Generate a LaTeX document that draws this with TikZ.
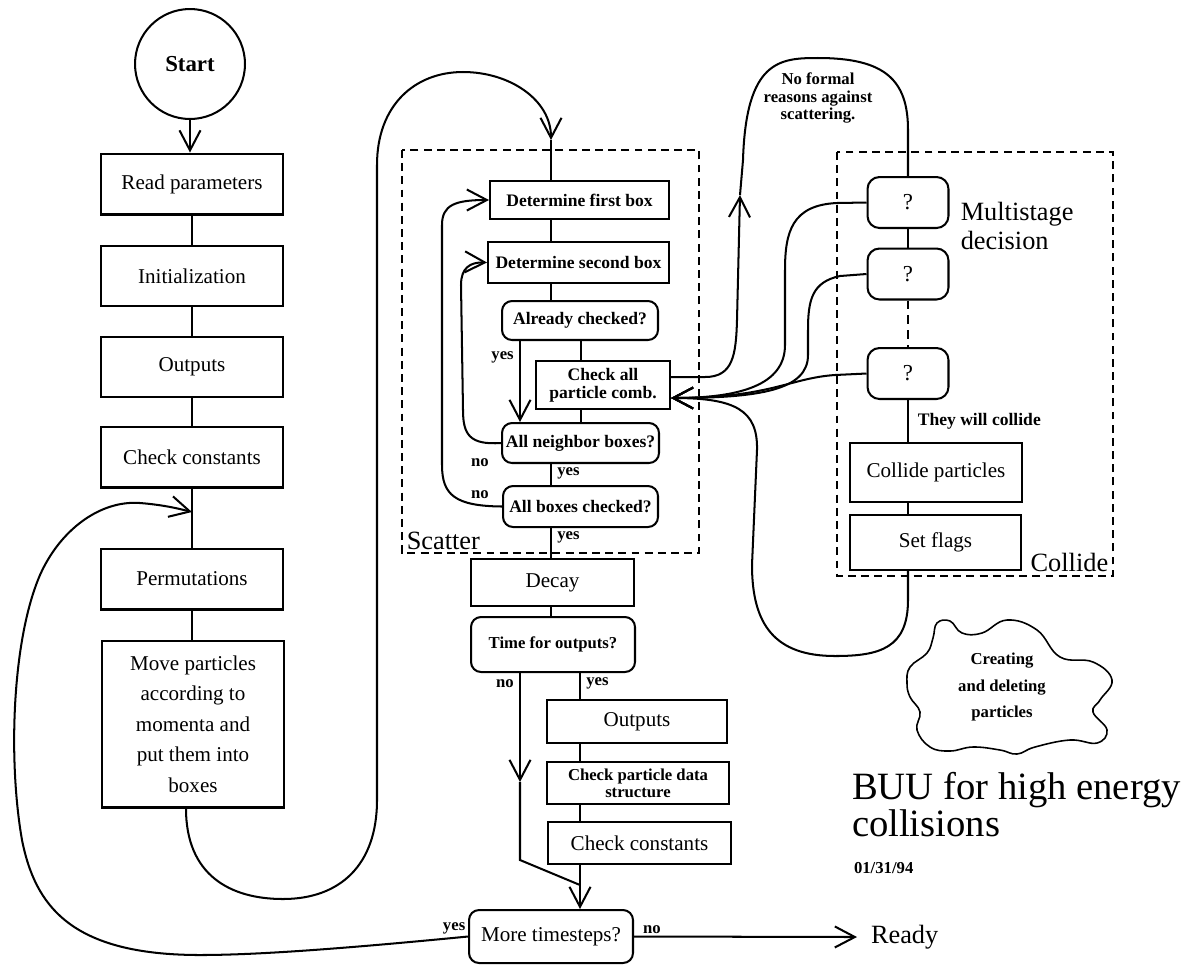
\documentclass[tikz,border=0pt]{standalone}
\usepackage{fontspec}
\setmainfont{Liberation Serif}
\usetikzlibrary{arrows.meta}

\newcommand{\fsz}[2]{\fontsize{#1}{#2}\selectfont}

\begin{document}
\begin{tikzpicture}[
  x=0.02cm, y=-0.02cm, line width=1.15pt,
  >={Straight Barb[length=0.4cm,width=0.42cm]},
  box/.style={draw, align=center, inner sep=2pt, font=\fsz{12}{17.4}},
  sbox/.style={draw, align=center, inner sep=2pt, font=\bfseries\fsz{10}{10.5}},
  dec/.style={draw, rounded corners=0.2cm, align=center, inner sep=2pt,
              font=\bfseries\fsz{10}{11}},
  qbox/.style={draw, rounded corners=0.24cm, minimum width=1.62cm,
               minimum height=1.02cm, font=\fsz{13}{14}},
  arr/.style={->},
  lbl/.style={font=\bfseries\fsz{9.5}{10}, inner sep=1pt},
  frame/.style={draw, line width=0.9pt, dash pattern=on 4.5pt off 3pt},
  big/.style={font=\fsz{15}{16}, inner sep=1pt, align=left},
]
\useasboundingbox (0,0) rectangle (1197,965);

% ---- Main column ----
\node[draw, circle, minimum size=2.2cm, font=\bfseries\fsz{13}{14}] (start) at (190,64) {Start};

\node[box, minimum width=3.64cm, minimum height=1.22cm] (readp) at (192,184) {Read parameters};
\node[box, minimum width=3.64cm, minimum height=1.2cm] (init) at (192,276) {Initialization};
\node[box, minimum width=3.64cm, minimum height=1.2cm] (outp) at (192,367) {Outputs};
\node[box, minimum width=3.66cm, minimum height=1.22cm] (chkc) at (192,457) {Check constants};
\node[box, minimum width=3.66cm, minimum height=1.22cm] (perm) at (192,579) {Permutations};
\node[box, minimum width=3.64cm, minimum height=3.34cm] (move) at (193,724)
  {Move particles\\according to\\momenta and\\put them into\\boxes};

\draw[arr] (start) -- (readp.north -| start);
\draw (readp) -- (init);
\draw (init) -- (outp);
\draw (outp) -- (chkc);
\draw (chkc) -- (perm);
\draw (perm) -- (move.north -| perm);
\coordinate (lin) at (192,512);

% ---- Scatter ----
\draw[frame] (402,150) rectangle (699,553);
\node[big, anchor=south west] (scatlbl) at (404,553) {Scatter};

\coordinate (sx) at (551,0);
\coordinate (sx2) at (581,0);
\coordinate (yx) at (520,0);

\node[sbox, minimum width=3.58cm, minimum height=0.76cm] (det1) at (579.5,200) {Determine first box};
\node[sbox, minimum width=3.62cm, minimum height=0.82cm] (det2) at (578.5,262.5) {Determine second box};
\node[dec, minimum width=3.12cm, minimum height=0.78cm] (already) at (580,320.5) {Already checked?};
\node[sbox, minimum width=2.68cm, minimum height=0.96cm] (chkall) at (603,385) {Check all\\particle comb.};
\node[dec, minimum width=3.14cm, minimum height=0.8cm] (allnb) at (580.5,443) {All neighbor boxes?};
\node[dec, minimum width=3.1cm, minimum height=0.82cm] (allbx) at (580.5,506.5) {All boxes checked?};

\draw (det1.south -| sx) -- (det2.north -| sx);
\draw (det2.south -| sx) -- (already.north -| sx);
\draw (already.south -| sx2) -- (chkall.north -| sx2);
\draw (chkall.south -| sx2) -- (allnb.north -| sx2);
\draw[arr] (already.south -| yx) -- node[lbl, left=2pt, pos=0.2] {yes} (allnb.north -| yx);
\draw (allnb.south -| sx) -- node[lbl, right=2pt, pos=0.45] {yes} (allbx.north -| sx);

\draw[arr] (allnb.west) .. controls (470,445) and (463,435) .. (463,410)
  -- (461,285) .. controls (461,268) and (470,262) .. (det2.west);
\draw[arr] (allbx.west) .. controls (455,506) and (442,495) .. (442,465)
  -- (442,225) .. controls (442,205) and (455,200) .. (det1.west);
\node[lbl] (no1) at (480,463) {no};
\node[lbl] (no2) at (480,495) {no};

% ---- Back into Scatter ----
\coordinate (sin) at (551,140);
\draw[arr] ([xshift=-0.14cm]move.south) .. controls (186,875) and (230,899) .. (283,899)
  .. controls (340,899) and (377,865) .. (377,800) -- (377,165)
  .. controls (377,105) and (415,72) .. (463,72)
  .. controls (510,72) and (551,100) .. (sin);
\draw (sin) -- (det1.north -| sin);

% ---- Decay and outputs ----
\coordinate (ox) at (580,0);
\node[box, minimum width=3.26cm, minimum height=0.94cm] (decay) at (552.5,582.5) {Decay};
\node[dec, minimum width=3.28cm, minimum height=1.1cm, font=\bfseries\fsz{9.5}{11}] (tfo) at (553,644.5) {Time for outputs?};
\node[box, minimum width=3.6cm, minimum height=0.86cm] (outp2) at (637,721.5) {Outputs};
\node[sbox, minimum width=3.64cm, minimum height=0.84cm, font=\bfseries\fsz{9.5}{9.5}] (cpds) at (638,783) {Check particle data\\structure};
\node[box, minimum width=3.66cm, minimum height=0.84cm] (chkc2) at (639.5,843) {Check constants};
\node[dec, minimum width=3.28cm, minimum height=1.06cm, font=\fsz{12}{14}] (more) at (551,936.5) {More timesteps?};

\draw (allbx.south -| sx) -- node[lbl, right=2pt, pos=0.3] {yes} (decay.north -| sx);
\draw (decay.south -| sx) -- (tfo.north -| sx);
\draw (tfo.south -| ox) -- node[lbl, right=2pt, pos=0.4] {yes} (outp2.north -| ox);
\draw (outp2.south -| ox) -- (cpds.north -| ox);
\draw (cpds.south -| ox) -- (chkc2.north -| ox);
\draw[arr] (chkc2.south -| ox) -- (more.north -| ox);

\coordinate (nomid) at (520,782);
\coordinate (nobend) at (520,860);
\coordinate (nojoin) at (580,885);
\draw[arr] (tfo.south -| yx) -- node[lbl, left=2pt, pos=0.1] {no} (nomid);
\draw (nomid) -- (nobend) -- (nojoin);

% ---- Ready / next step ----
\node[font=\fsz{15}{16}, anchor=west, inner xsep=0.26cm, inner ysep=1pt] (ready) at (857,937) {Ready};
\draw[arr] (more.east) -- node[lbl, above, pos=0.08] {no} (ready.west);
\draw[arr] (more.west) node[lbl, anchor=south east] {yes}
  .. controls (350,948) and (260,955) .. (200,955)
  .. controls (70,955) and (35,905) .. (22,840)
  .. controls (8,760) and (12,640) .. (40,575)
  .. controls (60,530) and (100,500) .. (140,503)
  .. controls (165,505) and (180,509) .. (lin);

% ---- Collide ----
\draw[frame] (837,152) rectangle (1113,576);
\node[big, anchor=south east] (collbl) at (1111,575) {Collide};
\coordinate (cx) at (908,0);

\node[qbox] (q1) at (908,202.5) {?};
\node[qbox] (q2) at (908,274) {?};
\node[qbox] (q3) at (908,373.5) {?};
\node[big, anchor=west] (multi) at (958,226) {Multistage\\decision};
\node[box, minimum width=3.44cm, minimum height=1.18cm] (colp) at (936,472.5) {Collide particles};
\node[box, minimum width=3.42cm, minimum height=1.1cm] (setf) at (935.5,542.5) {Set flags};

\draw (q1) -- (q2);
\draw[dash pattern=on 5pt off 3.5pt] (q2) -- (q3);
\draw (q3.south -| cx) -- node[lbl, right=4pt, font=\bfseries\fsz{10}{11}] {They will collide} (colp.north -| cx);
\draw (colp.south -| cx) -- (setf.north -| cx);

% ---- Scatter <-> Collide ----
\coordinate (nfr) at (740,195);
\draw[arr] ([yshift=0.16cm]chkall.east) -- (705,377)
  .. controls (733,377) and (736,355) .. (737,320) -- (nfr);
\draw (nfr) -- (743,160) .. controls (746,60) and (780,58) .. (818,58)
  .. controls (885,58) and (908,80) .. (908,130) -- (q1.north);
\node[lbl, align=center, font=\bfseries\fsz{9.5}{9.8}] (nfrlbl) at (818,98)
  {No formal\\reasons against\\scattering.};

\draw[arr] (q1.west) -- (837,203) .. controls (792,205) and (785,232) .. (785,270)
  -- (785,345) .. controls (785,385) and (740,398) .. ([yshift=-0.26cm]chkall.east);
\draw[arr] (q2.west) -- (840,276) .. controls (812,282) and (808,300) .. (808,330)
  -- (808,355) .. controls (808,390) and (760,398) .. ([yshift=-0.26cm]chkall.east);
\draw[arr] (q3.west) -- (835,375) .. controls (790,378) and (770,398) .. ([yshift=-0.26cm]chkall.east);
\draw[arr] (setf.south -| cx) -- (908,600) .. controls (908,648) and (880,656) .. (835,656)
  .. controls (775,656) and (752,625) .. (752,565) -- (757,450)
  .. controls (758,410) and (735,398) .. ([yshift=-0.26cm]chkall.east);

% ---- Cloud and title ----
\draw[line width=0.9pt] plot[smooth cycle, tension=0.7] coordinates {
  (937,623) (950,621) (962,633) (982,633) (1007,620) (1037,630) (1060,657)
  (1093,662) (1112,680) (1100,700) (1093,712) (1107,730) (1097,743) (1070,740)
  (1035,747) (1017,754) (1000,750) (973,747) (950,751) (930,747) (917,730)
  (920,712) (910,697) (907,683) (910,667) (927,653) (933,638)};
\node[lbl, align=center, font=\bfseries\fsz{9.5}{15}] (cloudtxt) at (1002,687)
  {Creating\\and deleting\\particles};

\node[anchor=north west, align=left, font=\fsz{22}{20}, inner sep=0pt] (title) at (851,771)
  {BUU for high energy\\collisions};
\node[anchor=base west, font=\bfseries\fsz{9.5}{10}, inner sep=0pt] (date) at (853,873) {01/31/94};

\end{tikzpicture}
\end{document}
